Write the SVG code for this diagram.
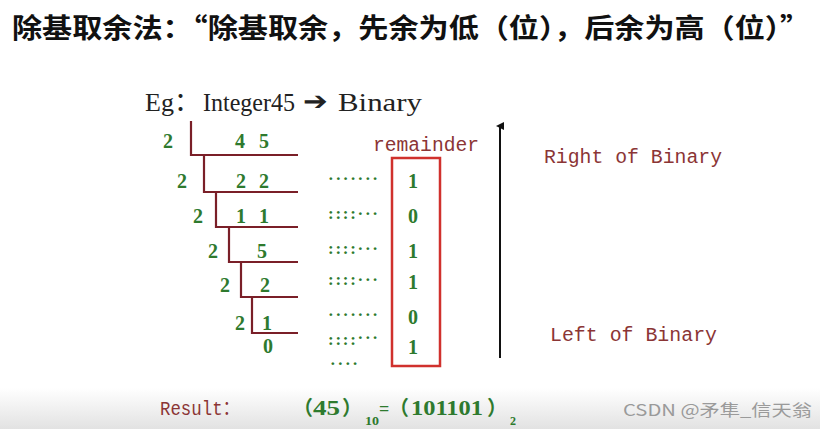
<svg xmlns="http://www.w3.org/2000/svg" width="820" height="429" viewBox="0 0 820 429">
<defs>
<linearGradient id="bg" x1="0" y1="0" x2="0" y2="1">
<stop offset="0" stop-color="#ffffff"/>
<stop offset="1" stop-color="#e2e2e2"/>
</linearGradient>
<marker id="ah" markerWidth="8" markerHeight="8" refX="4" refY="4" orient="auto" markerUnits="userSpaceOnUse">
<path d="M0,8 L4,0 L8,8 Z" fill="#111"/>
</marker>
<style>
.t{font-family:"Noto Sans CJK SC","Noto Sans",sans-serif;font-weight:bold;font-size:27px;fill:#111}
.g{font-family:"Liberation Serif","Noto Sans CJK SC",serif;font-weight:bold;font-size:20px;fill:#2e7a2e}
.d{font-family:"Liberation Serif",serif;font-weight:bold;font-size:17px;fill:#2e7a2e}
.m{font-family:"Liberation Mono","Noto Sans CJK SC",monospace;font-size:19.5px;fill:#8b3535}
.e{font-family:"Liberation Serif","Noto Sans CJK SC",serif;font-size:26px;fill:#222}
.div{fill:none;stroke:#7a1f28;stroke-width:2.2}
.w{font-family:"Noto Sans CJK SC","Noto Sans",sans-serif;font-size:16px;fill:#9a9a9a}
</style>
</defs>
<rect width="820" height="429" fill="#fff"/>
<rect x="0" y="388" width="820" height="41" fill="url(#bg)"/>

<g id="title"><text class="t" x="12" y="38" textLength="798" lengthAdjust="spacingAndGlyphs">除基取余法：“除基取余，先余为低（位），后余为高（位）”</text></g>

<g id="example">
<text class="e" x="145" y="111" font-size="22">Eg：</text>
<text class="e" x="203" y="111" textLength="92" lengthAdjust="spacingAndGlyphs">Integer45</text>
<text class="e" x="303" y="110" font-family="DejaVu Sans" font-size="22" textLength="25" lengthAdjust="spacingAndGlyphs">➔</text>
<text class="e" x="338" y="111" textLength="84" lengthAdjust="spacingAndGlyphs">Binary</text>
</g>

<g id="division">
<path class="div" d="M191,121 V155 H298 M204,155 V192 H298 M216,192 V227 H298 M229,227 V262 H298 M241,262 V297 H298 M252,297 V333 H298"/>
<text class="g" x="168" y="148" text-anchor="middle">2</text>
<text class="g" x="240" y="148" text-anchor="middle">4</text>
<text class="g" x="264" y="148" text-anchor="middle">5</text>
<text class="g" x="182" y="188" text-anchor="middle">2</text>
<text class="g" x="241" y="188" text-anchor="middle">2</text>
<text class="g" x="264" y="188" text-anchor="middle">2</text>
<text class="g" x="198" y="223" text-anchor="middle">2</text>
<text class="g" x="241" y="223" text-anchor="middle">1</text>
<text class="g" x="264" y="223" text-anchor="middle">1</text>
<text class="g" x="213" y="258" text-anchor="middle">2</text>
<text class="g" x="262" y="258" text-anchor="middle">5</text>
<text class="g" x="225" y="292" text-anchor="middle">2</text>
<text class="g" x="265" y="292" text-anchor="middle">2</text>
<text class="g" x="240" y="330" text-anchor="middle">2</text>
<text class="g" x="267" y="330" text-anchor="middle">1</text>
<text class="g" x="268" y="353" text-anchor="middle">0</text>
</g>

<g id="dots">
<text class="d" x="328" y="184" textLength="50">·······</text>
<text class="d" x="328" y="219" textLength="50">::::···</text>
<text class="d" x="328" y="254" textLength="50">::::···</text>
<text class="d" x="328" y="285" textLength="50">::::···</text>
<text class="d" x="328" y="320" textLength="50">·······</text>
<text class="d" x="328" y="345" textLength="50">::::<tspan dy="-2">···</tspan></text>
<text class="d" x="330" y="369" textLength="28">····</text>
</g>

<g id="remainders">
<text class="m" x="373" y="151" textLength="106" lengthAdjust="spacingAndGlyphs">remainder</text>
<rect x="392" y="158" width="48" height="208" fill="none" stroke="#d0312d" stroke-width="2.5"/>
<text class="g" x="413" y="188" text-anchor="middle">1</text>
<text class="g" x="413" y="223" text-anchor="middle">0</text>
<text class="g" x="413" y="258" text-anchor="middle">1</text>
<text class="g" x="413" y="289" text-anchor="middle">1</text>
<text class="g" x="413" y="324" text-anchor="middle">0</text>
<text class="g" x="413" y="354" text-anchor="middle">1</text>
</g>

<g id="connectors">
<line x1="500" y1="358" x2="500" y2="126" stroke="#111" stroke-width="2" marker-end="url(#ah)"/>
</g>

<g id="right-label"><text class="m" x="544" y="163" textLength="178" lengthAdjust="spacingAndGlyphs">Right of Binary</text></g>
<g id="left-label"><text class="m" x="550" y="341" textLength="167" lengthAdjust="spacingAndGlyphs">Left of Binary</text></g>

<g id="result">
<text class="m" x="160" y="415" textLength="80" lengthAdjust="spacingAndGlyphs">Result：</text>
<text class="g" y="415" font-size="22"><tspan x="293">（</tspan><tspan x="313" textLength="27" lengthAdjust="spacingAndGlyphs">45</tspan><tspan x="342">）</tspan><tspan x="365" y="425" font-size="12" textLength="14" lengthAdjust="spacingAndGlyphs">10</tspan><tspan x="379" y="415" font-size="18">=</tspan><tspan x="389">（</tspan><tspan x="411" textLength="72" lengthAdjust="spacingAndGlyphs">101101</tspan><tspan x="487">）</tspan><tspan x="510" y="425" font-size="12">2</tspan></text>
</g>

<g id="watermark"><text class="w" x="623" y="416" textLength="189" lengthAdjust="spacingAndGlyphs">CSDN @矛隼_信天翁</text></g>
</svg>
